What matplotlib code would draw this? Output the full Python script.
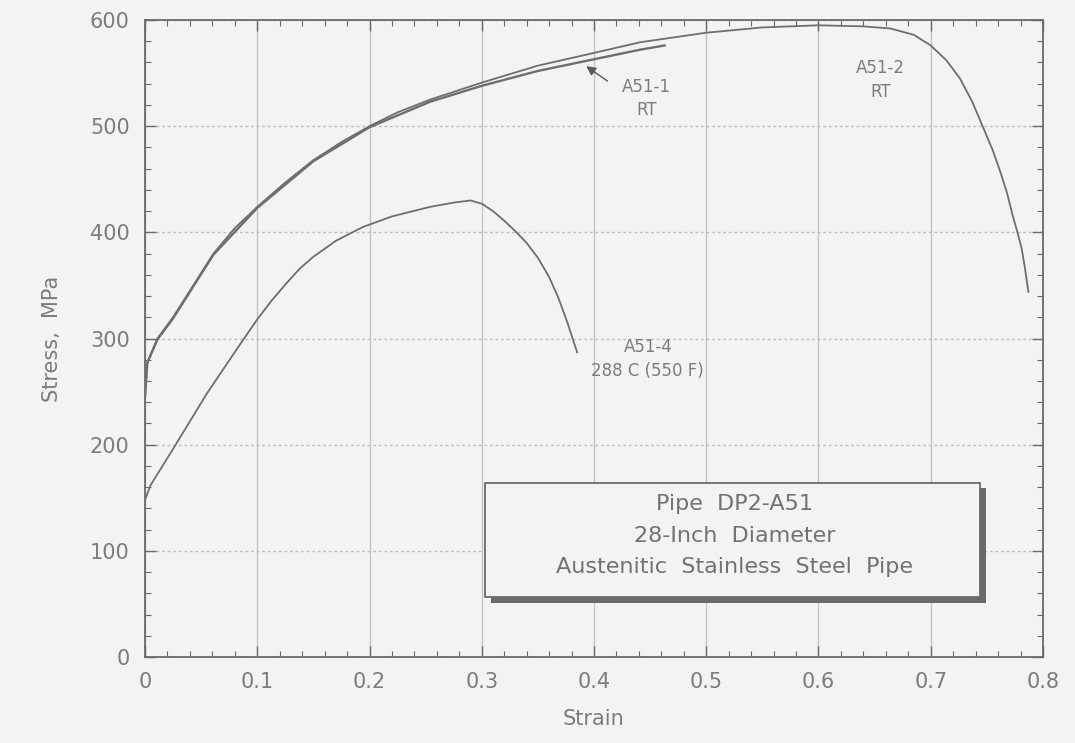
"""
Stress-strain curves, pipe DP2-A51 (28-inch austenitic stainless steel).
"""

import matplotlib
matplotlib.use("Agg")
import matplotlib.pyplot as plt
from matplotlib.patches import Rectangle
from matplotlib.ticker import MultipleLocator

# A51-2, room temperature
a51_2_strain = [0.0, 0.002, 0.011, 0.025, 0.046, 0.061, 0.08, 0.1, 0.125,
                0.15, 0.175, 0.2, 0.225, 0.254, 0.3, 0.35, 0.4, 0.441, 0.5,
                0.55, 0.6, 0.64, 0.664, 0.685, 0.7, 0.714, 0.726, 0.737, 0.747,
                0.755, 0.762, 0.768, 0.773, 0.777, 0.781, 0.784, 0.787]
a51_2_stress = [245, 277, 300, 320, 355, 380, 404, 424, 447,
                468, 485, 500, 513, 525, 541, 557, 569, 579, 588,
                593, 595, 594, 592, 586, 576, 562, 545, 523, 498,
                478, 457, 437, 416, 401, 385, 366, 344]

# A51-1, room temperature
a51_1_strain = [0.0, 0.002, 0.011, 0.025, 0.046, 0.061, 0.1, 0.15, 0.2, 0.254,
                0.3, 0.35, 0.4, 0.441, 0.463]
a51_1_stress = [245, 277, 299, 319, 354, 379, 423, 467, 499, 523,
                538, 552, 563, 572, 576]

# A51-4, 288 C
a51_4_strain = [0.0, 0.005, 0.025, 0.055, 0.085, 0.1, 0.113, 0.126, 0.138, 0.15,
                0.17, 0.194, 0.22, 0.254, 0.275, 0.29, 0.3, 0.31, 0.32,
                0.33, 0.34, 0.35, 0.36, 0.368, 0.376, 0.385]
a51_4_stress = [148, 162, 196, 248, 295, 318, 336, 352, 366, 377,
                392, 405, 415, 424, 428, 430, 427, 420, 411,
                401, 390, 376, 358, 339, 316, 287]

box_lines = ["Pipe  DP2-A51", "28-Inch  Diameter", "Austenitic  Stainless  Steel  Pipe"]

bg = "#f3f3f1"
txt = "#7c7c7c"
line_c = "#6e6e6e"

plt.rcParams["font.family"] = ["DejaVu Sans"]

fig = plt.figure(figsize=(10.75, 7.43), dpi=100, facecolor=bg)
ax = fig.add_axes([0.1349, 0.1157, 0.8353, 0.8574], facecolor=bg)

ax.plot(a51_1_strain, a51_1_stress, color=line_c, lw=1.7, zorder=3)
ax.plot(a51_2_strain, a51_2_stress, color=line_c, lw=1.3, zorder=3)
ax.plot(a51_4_strain, a51_4_stress, color=line_c, lw=1.3, zorder=3)

ax.set_xlim(0, 0.8)
ax.set_ylim(0, 600)
ax.xaxis.set_major_locator(MultipleLocator(0.1))
ax.xaxis.set_minor_locator(MultipleLocator(0.02))
ax.yaxis.set_major_locator(MultipleLocator(100))
ax.yaxis.set_minor_locator(MultipleLocator(20))
ax.xaxis.set_major_formatter(plt.FuncFormatter(lambda v, p: "0" if v == 0 else f"{v:.1f}"))

ax.tick_params(which="both", direction="in", top=True, right=True,
               colors="#6a6a6a", labelcolor=txt, labelsize=15)
ax.tick_params(which="major", length=8, width=1.0, pad=11)
ax.tick_params(which="minor", length=4, width=0.8)
for s in ax.spines.values():
    s.set_color("#6a6a6a")
    s.set_linewidth(1.3)

ax.grid(axis="x", which="major", color="#c4c4c4", lw=1.0)
ax.grid(axis="y", which="major", color="#bdbdbd", lw=1.0, ls=(0, (2, 2)))

ax.set_xlabel("Strain", fontsize=15, color=txt, labelpad=12)
ax.set_ylabel("Stress,  MPa", fontsize=15, color=txt, labelpad=20)

# curve labels
lab = dict(fontsize=12, color=txt, ha="center", va="center")
ax.text(0.447, 537, "A51-1", **lab)
ax.text(0.447, 515, "RT", **lab)
ax.annotate("", xy=(0.391, 558), xytext=(0.414, 541),
            arrowprops=dict(arrowstyle="-|>", color="#5a5a5a", lw=1.0,
                            mutation_scale=14))
ax.text(0.655, 555, "A51-2", **lab)
ax.text(0.655, 532, "RT", **lab)
ax.text(0.448, 292, "A51-4", **lab)
ax.text(0.448, 269, "288 C (550 F)", **lab)

# info box with drop shadow
ax.add_patch(Rectangle((0.308, 51), 0.441, 108, facecolor="#6a6a6a",
                       edgecolor="none", zorder=4))
ax.add_patch(Rectangle((0.303, 56.5), 0.441, 107.5, facecolor=bg,
                       edgecolor="#6a6a6a", lw=1.3, zorder=5))
for i, line in enumerate(box_lines):
    ax.text(0.525, 144 - i * 29.7, line, fontsize=16, color="#727272",
            ha="center", va="center", zorder=6)

fig.savefig("out.png", dpi=100, facecolor=bg)
